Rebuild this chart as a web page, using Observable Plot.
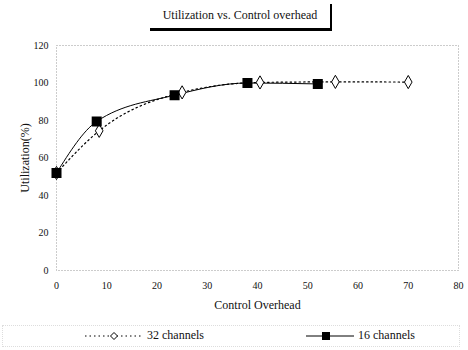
<!DOCTYPE html>
<html>
<head>
<meta charset="utf-8">
<script src="https://cdn.jsdelivr.net/npm/d3@7"></script>
<script src="https://cdn.jsdelivr.net/npm/@observablehq/plot@0.6"></script>
<style>
  body { margin: 0; background: #fff; font-family: "Liberation Serif", "DejaVu Serif", serif; }
  #wrap { position: relative; width: 468px; height: 350px; overflow: hidden; }
  #title { position: absolute; left: 150px; top: 4px; width: 180px; height: 24px;
           border-right: 2px solid #000; border-bottom: 3px solid #000;
           font-size: 12px; text-align: center; line-height: 22px; color: #111; }
  #chart { position: absolute; left: 0; top: 36px; }
  #legend { position: absolute; left: 2px; top: 325px; width: 456px; height: 20px;
            border: 1px dotted #ddd; font-size: 12px; color: #111; }
  .item { position: absolute; top: 2px; display: flex; align-items: center; }
  .item svg { margin-right: 4px; }
</style>
</head>
<body>
<div id="wrap">
  <div id="title">Utilization vs. Control overhead</div>
  <div id="chart"></div>
  <div id="legend">
    <div class="item" style="left:82px">
      <svg width="58" height="14"><line x1="0" y1="7" x2="58" y2="7" stroke="#000" stroke-dasharray="1.5,3"/><path d="M29,3.5 L32.5,7 L29,10.5 L25.5,7 Z" fill="#fff" stroke="#000"/></svg>
      <span>32 channels</span>
    </div>
    <div class="item" style="left:303px">
      <svg width="48" height="14"><line x1="0" y1="7" x2="48" y2="7" stroke="#000"/><rect x="16" y="3" width="8" height="8" fill="#000"/></svg>
      <span>16 channels</span>
    </div>
  </div>
</div>
<script>
const overhead32 = [0, 8.5, 25, 40.5, 55.5, 70];
const util32     = [52, 74.5, 95, 100.3, 100.6, 100.5];
const overhead16 = [0, 8, 23.5, 38, 52];
const util16     = [52, 79.5, 93.5, 100, 99.5];
const xTicks = [0, 10, 20, 30, 40, 50, 60, 70, 80];
const yTicks = [0, 20, 40, 60, 80, 100, 120];

const s32 = overhead32.map((x, i) => ({x, y: util32[i]}));
const s16 = overhead16.map((x, i) => ({x, y: util16[i]}));

const chart = Plot.plot({
  width: 468,
  height: 280,
  marginLeft: 56,
  marginRight: 10,
  marginTop: 9,
  marginBottom: 46,
  style: { fontFamily: "Liberation Serif, serif", fontSize: "10px", color: "#111", background: "#fff" },
  x: { domain: [0, 80], ticks: xTicks },
  y: { domain: [0, 120], ticks: yTicks },
  marks: [
    Plot.frame({ stroke: "#999", strokeDasharray: "1,2" }),
    Plot.axisX({ ticks: xTicks, tickSize: 0, tickPadding: 11, fontSize: 10,
                 label: "Control Overhead", labelAnchor: "center", labelArrow: "none", labelOffset: 38 }),
    Plot.axisY({ ticks: yTicks, tickSize: 0, tickPadding: 8, fontSize: 10,
                 label: "Utilization(%)", labelAnchor: "center", labelArrow: "none", labelOffset: 36 }),
    Plot.line(s32, { x: "x", y: "y", curve: "monotone-x", stroke: "#000", strokeWidth: 1.2, strokeDasharray: "1.5,3" }),
    Plot.line(s16, { x: "x", y: "y", curve: "monotone-x", stroke: "#000", strokeWidth: 1 }),
    Plot.dot(s32, { x: "x", y: "y", symbol: "diamond", r: 4, fill: "#fff", stroke: "#000", strokeWidth: 1 }),
    Plot.dot(s16, { x: "x", y: "y", symbol: "square", r: 4.8, fill: "#000", stroke: "#000" })
  ]
});
document.getElementById("chart").append(chart);
chart.querySelectorAll("[aria-label='x-axis label'] text, [aria-label='y-axis label'] text").forEach(t => t.style.fontSize = "12px");
</script>
</body>
</html>
